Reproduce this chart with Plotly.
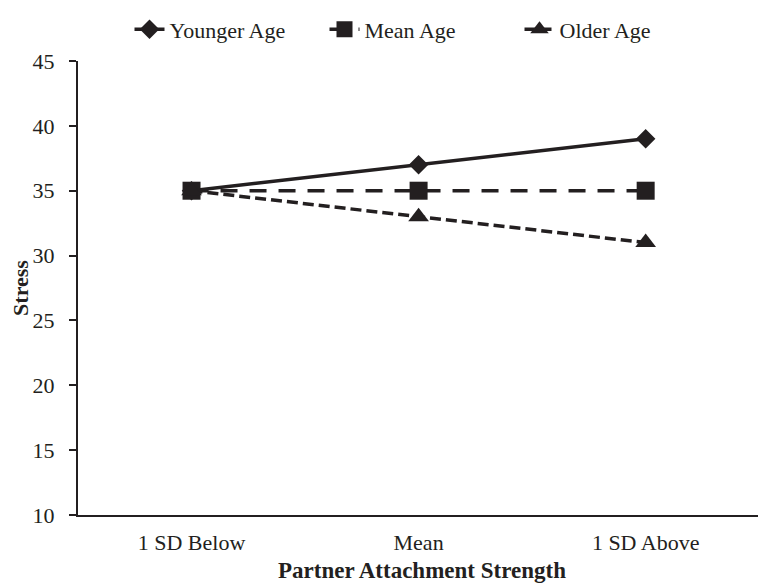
import plotly.graph_objects as go

categories = ["1 SD Below", "Mean", "1 SD Above"]
younger = [35, 37, 39]
mean_age = [35, 35, 35]
older = [35, 33, 31]
y_ticks = [10, 15, 20, 25, 30, 35, 40, 45]

FONT = "Liberation Serif"
C = "#231f20"

fig = go.Figure()
fig.add_trace(go.Scatter(x=categories, y=younger, name="Younger Age", mode="lines+markers",
                         line=dict(color=C, width=3.5), marker=dict(symbol="diamond", size=15, color=C)))
fig.add_trace(go.Scatter(x=categories, y=mean_age, name="Mean Age", mode="lines+markers",
                         line=dict(color=C, width=3.5, dash="17px,12px"), marker=dict(symbol="square", size=18, color=C)))
fig.add_trace(go.Scatter(x=categories, y=older, name="Older Age", mode="lines+markers",
                         line=dict(color=C, width=3.5, dash="11px,5px"), marker=dict(symbol="triangle-up", size=18, color=C)))

# page body has an 8px offset; compensate so the plot area lands where the reference has it
fig.update_layout(
    width=758, height=577,
    margin=dict(l=70, r=0, t=53, b=70, autoexpand=False),
    plot_bgcolor="white", paper_bgcolor="white",
    font=dict(family=FONT, size=22, color=C),
    showlegend=True,
    legend=dict(orientation="h", x=0.5, xanchor="center", y=1.116, yanchor="top",
                font=dict(size=22, family=FONT), tracegroupgap=0,
                entrywidth=150, entrywidthmode="pixels"),
    xaxis=dict(range=[-0.5, 2.53], showline=True, linecolor=C, linewidth=2,
               ticks="outside", ticklen=7, tickcolor="rgba(0,0,0,0)",
               showgrid=False, zeroline=False, automargin=False,
               title=dict(text="<b>Partner Attachment Strength</b>", font=dict(size=23, family=FONT), standoff=7)),
    yaxis=dict(range=[10, 45], tickvals=y_ticks, showline=True, linecolor=C, linewidth=2,
               ticks="outside", ticklen=7, tickwidth=1.5, tickcolor=C, showgrid=False, zeroline=False,
               automargin=False, ticklabelstandoff=10,
               title=dict(text="<b>Stress</b>", font=dict(size=22, family=FONT), standoff=6)),
)
fig.write_html("out.html")
